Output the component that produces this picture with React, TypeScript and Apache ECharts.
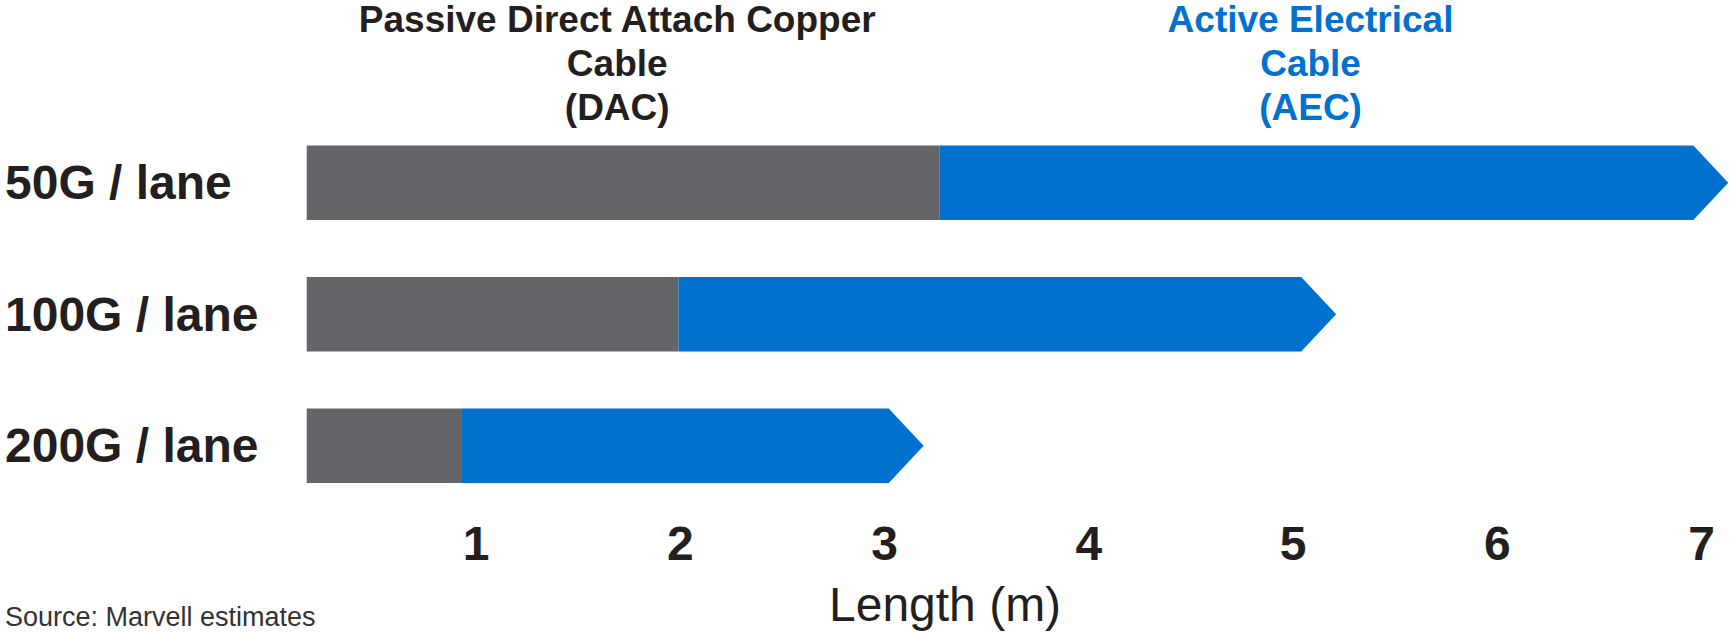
import React, { useEffect, useRef } from 'react';
import * as echarts from 'echarts';

const categories = ['50G / lane', '100G / lane', '200G / lane'];
const barStart = [0.17, 0.17, 0.17];
const dacEnd = [3.27, 1.99, 0.93];
const aecEnd = [6.96, 5.04, 3.02];
const tickLabels = ['1', '2', '3', '4', '5', '6', '7'];
const segmentNames = ['Passive Direct Attach Copper\nCable\n(DAC)', 'Active Electrical\nCable\n(AEC)'];
const axisTitle = 'Length (m)';
const sourceNote = 'Source: Marvell estimates';

const GRAY = '#636569';
const BLUE = '#0071CE';
const TEXT = '#231F20';
const FONT = '"Liberation Sans", Arial, Helvetica, sans-serif';

export default function App() {
  const ref = useRef<HTMLDivElement>(null);
  useEffect(() => {
    const chart = echarts.init(ref.current as HTMLDivElement, null, { renderer: 'svg' });
    const data = categories.map((_, i) => [i, barStart[i], dacEnd[i], aecEnd[i]]);
    chart.setOption({
      animation: false,
      grid: { left: 272, right: 0, top: 117, bottom: 120.5, containLabel: false },
      xAxis: {
        type: 'value',
        min: 0,
        max: 7.12,
        interval: 1,
        axisLine: { show: false },
        axisTick: { show: false },
        splitLine: { show: false },
        axisLabel: {
          margin: 8,
          fontSize: 48,
          fontWeight: 'bold',
          color: TEXT,
          fontFamily: FONT,
          formatter: (v: number) => {
            const k = Math.round(v);
            return Math.abs(v - k) < 1e-6 && k >= 1 && k <= tickLabels.length ? tickLabels[k - 1] : '';
          },
        },
      },
      yAxis: {
        type: 'category',
        data: categories,
        inverse: true,
        axisLine: { show: false },
        axisTick: { show: false },
        splitLine: { show: false },
        axisLabel: {
          align: 'left',
          margin: 267,
          fontSize: 48,
          fontWeight: 'bold',
          color: TEXT,
          fontFamily: FONT,
        },
      },
      series: [
        {
          type: 'custom',
          data,
          encode: { x: [1, 2, 3], y: 0 },
          clip: false,
          renderItem: (params: any, api: any) => {
            const cat = api.value(0);
            const p0 = api.coord([api.value(1), cat]);
            const p1 = api.coord([api.value(2), cat]);
            const p2 = api.coord([api.value(3), cat]);
            const band = api.size([0, 1])[1];
            const h = band * 0.565;
            const cy = p0[1];
            const top = cy - h / 2;
            const bot = cy + h / 2;
            const tip = h * 0.47;
            const children: any[] = [
              {
                type: 'rect',
                shape: { x: p0[0], y: top, width: p1[0] - p0[0], height: h },
                style: { fill: GRAY },
              },
              {
                type: 'polygon',
                shape: {
                  points: [
                    [p1[0], top],
                    [p2[0], top],
                    [p2[0] + tip, cy],
                    [p2[0], bot],
                    [p1[0], bot],
                  ],
                },
                style: { fill: BLUE },
              },
            ];
            if (params.dataIndex === 0) {
              children.push(
                {
                  type: 'text',
                  style: {
                    text: segmentNames[0],
                    x: (p0[0] + p1[0]) / 2 - 6,
                    y: top - 16,
                    align: 'center',
                    verticalAlign: 'bottom',
                    fontSize: 37,
                    fontWeight: 'bold',
                    fontFamily: FONT,
                    lineHeight: 44,
                    fill: TEXT,
                  },
                },
                {
                  type: 'text',
                  style: {
                    text: segmentNames[1],
                    x: (p1[0] + p2[0]) / 2 - 6,
                    y: top - 16,
                    align: 'center',
                    verticalAlign: 'bottom',
                    fontSize: 37,
                    fontWeight: 'bold',
                    fontFamily: FONT,
                    lineHeight: 44,
                    fill: BLUE,
                  },
                }
              );
            }
            return { type: 'group', children };
          },
        },
      ],
      graphic: [
        {
          type: 'text',
          left: 829,
          top: 580,
          style: {
            text: axisTitle,
            fontSize: 48,
            fontFamily: FONT,
            fill: TEXT,
          },
        },
        {
          type: 'text',
          left: 5,
          top: 603,
          style: {
            text: sourceNote,
            fontSize: 27,
            fontFamily: FONT,
            fill: '#333333',
          },
        },
      ],
    });
    return () => chart.dispose();
  }, []);
  return (
    <div
      ref={ref}
      style={{ position: 'absolute', left: 0, top: 0, width: 1729, height: 632 }}
    />
  );
}
